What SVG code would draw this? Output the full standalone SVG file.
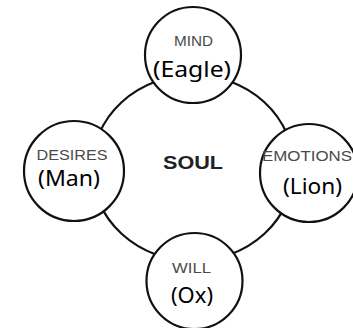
<svg xmlns="http://www.w3.org/2000/svg" width="353" height="328" viewBox="0 0 353 328">
  <style>
    .ring { fill: none; stroke: #111; stroke-width: 2.2; }
    .node { fill: #fff; stroke: #111; stroke-width: 2.2; }
    .lbl { font-family: "Liberation Sans", Arial, sans-serif; font-size: 14px; fill: #4a4a4a; }
    .sub { font-family: "Noto Sans", "Open Sans", sans-serif; font-size: 21px; fill: #000; }
    .core { font-family: "Liberation Sans", Arial, sans-serif; font-size: 18px; font-weight: bold; fill: #222; }
  </style>
  <rect width="353" height="328" fill="#fff"/>
  <g id="connectors">
    <ellipse class="ring" cx="193" cy="168" rx="101" ry="93"/>
  </g>
  <g id="soul">
    <text class="core" x="163" y="169" textLength="60" lengthAdjust="spacingAndGlyphs">SOUL</text>
  </g>
  <g id="mind">
    <circle class="node" cx="193" cy="55" r="48"/>
    <text class="lbl" x="174" y="46" textLength="39" lengthAdjust="spacingAndGlyphs">MIND</text>
    <text class="sub" x="153" y="77" textLength="78" lengthAdjust="spacingAndGlyphs">(Eagle)</text>
  </g>
  <g id="desires">
    <circle class="node" cx="74" cy="171" r="50"/>
    <text class="lbl" x="36.5" y="160" textLength="71" lengthAdjust="spacingAndGlyphs">DESIRES</text>
    <text class="sub" x="38" y="185.5" textLength="62" lengthAdjust="spacingAndGlyphs">(Man)</text>
  </g>
  <g id="emotions">
    <circle class="node" cx="309" cy="173" r="49"/>
    <text class="lbl" x="262" y="161" textLength="90" lengthAdjust="spacingAndGlyphs">EMOTIONS</text>
    <text class="sub" x="283" y="194" textLength="59" lengthAdjust="spacingAndGlyphs">(Lion)</text>
  </g>
  <g id="will">
    <circle class="node" cx="194.5" cy="281" r="48"/>
    <text class="lbl" x="172" y="273" textLength="39" lengthAdjust="spacingAndGlyphs">WILL</text>
    <text class="sub" x="171" y="303" textLength="42" lengthAdjust="spacingAndGlyphs">(Ox)</text>
  </g>
</svg>
